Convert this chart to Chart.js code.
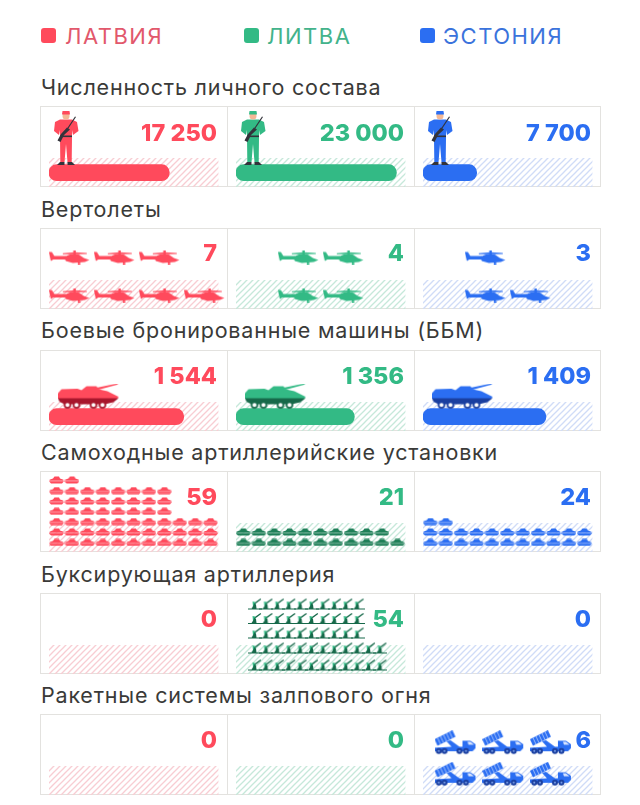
<!DOCTYPE html>
<html lang="ru">
<head>
<meta charset="utf-8">
<title>Вооружение стран Балтии</title>
<script src="https://cdn.jsdelivr.net/npm/chart.js@4"></script>
<style>
  html, body { margin: 0; padding: 0; background: #fff; }
  body { position: relative; width: 640px; height: 805px; overflow: hidden; font-family: Inter, "Noto Sans", sans-serif; }
  .leg-box { position: absolute; top: 28px; width: 15px; height: 15px; border-radius: 3px; }
  .leg-text { position: absolute; top: 22px; font-size: 22px; line-height: 28px; letter-spacing: 1.5px; white-space: nowrap; }
  .title { position: absolute; left: 41px; font-size: 21.5px; line-height: 26px; font-weight: 400; color: #3a3a38; letter-spacing: .8px; white-space: nowrap; }
  .panel { position: absolute; left: 40px; width: 561px; height: 81px; box-sizing: border-box; border: 1px solid #e3e2df; }
  .sep { position: absolute; width: 1px; height: 81px; background: #e3e2df; }
  .cell { position: absolute; width: 187px; height: 81px; }
  .cell canvas { position: absolute; left: 0; top: 0; }
  .num { position: absolute; right: 10px; font-size: 23.5px; line-height: 28px; font-weight: 800; white-space: nowrap; }
</style>
</head>
<body>
<script>
/* DATA */
const countries = ["ЛАТВИЯ", "ЛИТВА", "ЭСТОНИЯ"];
const sectionTitles = [
  "Численность личного состава",
  "Вертолеты",
  "Боевые бронированные машины (ББМ)",
  "Самоходные артиллерийские установки",
  "Буксирующая артиллерия",
  "Ракетные системы залпового огня"
];
const personnel = [17250, 23000, 7700];
const helicopters = [7, 4, 3];
const armoured = [1544, 1356, 1409];
const selfPropelled = [59, 21, 24];
const towed = [0, 54, 0];
const rocket = [0, 0, 6];

// how many icons stand in each row, bottom row first
const helicopterRows = [[4, 3], [2, 2], [2, 1]];
const selfPropelledRows = [[11, 11, 11, 8, 8, 8, 2], [11, 10], [11, 11, 2]];
const towedRows = [[], [12, 12, 10, 10, 10], []];
const rocketRows = [[], [], [3, 3]];

/* COLOURS */
const mainColors = ["#ff4a5c", "#33ba85", "#2b6ef2"];
const legendColors = ["#e2586c", "#43b38b", "#3b73dc"];
const darkColors = ["#a8162c", "#17694a", "#1a3fa0"];
const hatchColors = ["#f8cdd3", "#c6e8da", "#d0dcf7"];
const tankTops = ["#ff4a5c", "#1f7f58", "#2b6ef2"];
const tankSlits = ["#ff8f9b", "#5fa685", "#86abf7"];
const skin = "#f3b896";

/* ICONS */
function makeIcon(w, h, draw) {
  const c = document.createElement("canvas");
  c.width = w;
  c.height = h;
  draw(c.getContext("2d"));
  return c;
}

function poly(ctx, color, pts) {
  ctx.fillStyle = color;
  ctx.beginPath();
  pts.forEach((p, i) => i ? ctx.lineTo(p[0], p[1]) : ctx.moveTo(p[0], p[1]));
  ctx.closePath();
  ctx.fill();
}

function soldierIcon(i) {
  return makeIcon(28, 56, ctx => {
    const m = mainColors[i], d = "#33333b";
    // torso and arms
    poly(ctx, m, [[8, 9.5], [20, 9.5], [25, 12], [26.5, 21], [21, 25], [20, 20], [20, 28], [8, 28], [8, 20], [7, 25], [2, 21], [3, 12]]);
    // legs
    poly(ctx, m, [[8, 28], [20, 28], [19.7, 52], [15.5, 52], [14, 34], [12.5, 52], [8.3, 52]]);
    ctx.fillStyle = skin;
    ctx.beginPath(); ctx.arc(14, 6, 3.5, 0, 7); ctx.fill();
    poly(ctx, m, [[10, 4.5], [10.5, 1], [17.5, 1], [18, 4.5]]);
    ctx.fillStyle = d;
    ctx.fillRect(8, 25.5, 12, 1.6);
    // rifle: thin barrel, heavier stock
    poly(ctx, d, [[23, 6.5], [24, 7], [16, 19], [15, 18.4]]);
    poly(ctx, d, [[15, 17.5], [18, 19.5], [12, 25], [8.5, 32], [5.5, 30.5], [9, 24]]);
    poly(ctx, d, [[8, 52], [12.5, 52], [12.5, 55], [5, 55]]);
    poly(ctx, d, [[15.5, 52], [20, 52], [23, 55], [15.5, 55]]);
  });
}

function helicopterIcon(i) {
  return makeIcon(41, 15, ctx => {
    const m = mainColors[i];
    poly(ctx, m, [[0, 2.5], [3, 2.5], [5.5, 6.5], [17, 6.5], [17, 10], [4.5, 10], [2, 11.5], [1, 7]]);
    poly(ctx, m, [[15, 7.5], [21, 5], [30, 5], [35, 8.5], [40.5, 10.5], [36, 12.5], [24, 13.5], [17, 11.5]]);
    poly(ctx, m, [[14, 3.8], [26, 2.8], [38, 3.6], [38, 4.6], [26, 4.8], [14, 4.8]]);
    ctx.fillStyle = m;
    ctx.fillRect(24.5, 1, 2.5, 5);
    ctx.fillRect(29, 13, 2.5, 1.8);
  });
}

function armouredIcon(i) {
  return makeIcon(62, 26, ctx => {
    const m = mainColors[i], d = darkColors[i];
    poly(ctx, m, [[0, 10], [4, 5.5], [20, 5], [24, 6.5], [29, 2.5], [39, 2.5], [41, 5.5], [50, 7.5], [61, 13], [60, 15], [0, 15]]);
    poly(ctx, m, [[39, 4], [60, -.3], [60.5, .7], [41, 6]]);
    poly(ctx, d, [[.5, 14.5], [61, 14.5], [56, 18.5], [47, 20.5], [7, 20.5], [2, 18]]);
    [10, 19, 36, 45].forEach(x => {
      ctx.beginPath();
      ctx.arc(x, 21.3, 2.9, 0, 7);
      ctx.fillStyle = "#fff";
      ctx.fill();
      ctx.lineWidth = 1.7;
      ctx.strokeStyle = d;
      ctx.stroke();
    });
  });
}

function selfPropelledIcon(i) {
  return makeIcon(15, 8, ctx => {
    const t = tankTops[i];
    poly(ctx, t, [[.5, 3.8], [4, 2.6], [5.5, .4], [10, .4], [11, 2.6], [14.5, 3.8], [14.5, 4.8], [.5, 4.8]]);
    ctx.fillStyle = tankSlits[i];
    ctx.fillRect(1, 4.8, 13, .5);
    poly(ctx, t, [[0, 5.3], [15, 5.3], [13, 7.6], [2, 7.6]]);
  });
}

function towedIcon(i) {
  return makeIcon(14, 13, ctx => {
    const d = darkColors[i];
    poly(ctx, d, [[12.5, 1], [13.2, 2], [7.5, 6.2], [6.5, 5.2]]);
    poly(ctx, mainColors[i], [[4.5, 4], [7, 4.5], [8, 9], [5, 9]]);
    poly(ctx, d, [[6.5, 5.5], [8, 7], [8.5, 11], [3.5, 11], [5.5, 8]]);
    ctx.fillStyle = d;
    ctx.fillRect(0, 11, 14, 1);
  });
}

function rocketIcon(i) {
  return makeIcon(42, 25, ctx => {
    const m = mainColors[i], d = darkColors[i];
    poly(ctx, m, [[0, 9], [18, 0], [21, 6.5], [3, 15.5]]);
    ctx.strokeStyle = "#cfe0ff";
    ctx.lineWidth = .7;
    for (let k = 1; k < 6; k++) {
      const a = k / 6;
      ctx.beginPath();
      ctx.moveTo(18 * a, 9 - 9 * a);
      ctx.lineTo(3 + 18 * a, 15.5 - 9 * a);
      ctx.stroke();
    }
    poly(ctx, m, [[12, 11], [16, 10], [25, 16.5], [28, 16.5], [28, 10.5], [36, 10.5], [41, 14], [41, 18], [38, 21], [0, 21], [0, 17.5], [17, 16.5]]);
    poly(ctx, "#d9e5ff", [[33, 11.5], [36, 11.5], [39.5, 14.5], [34, 14.5]]);
    [4.3, 10, 25, 31.5].forEach(x => {
      ctx.beginPath();
      ctx.arc(x, 20.8, 3, 0, 7);
      ctx.fillStyle = d;
      ctx.fill();
      ctx.beginPath();
      ctx.arc(x, 20.8, 1, 0, 7);
      ctx.fillStyle = "#7fa4ee";
      ctx.fill();
    });
  });
}

/* HATCH TRACK */
function hatchPattern(color) {
  const t = document.createElement("canvas");
  t.width = 6;
  t.height = 6;
  const ctx = t.getContext("2d");
  ctx.strokeStyle = color;
  ctx.lineWidth = 1.3;
  [[-1, 7, 7, -1], [-4, 4, 4, -4], [2, 10, 10, 2]].forEach(s => {
    ctx.beginPath();
    ctx.moveTo(s[0], s[1]);
    ctx.lineTo(s[2], s[3]);
    ctx.stroke();
  });
  return ctx.createPattern(t, "repeat");
}

/* SECTIONS */
const cellW = 187, cellH = 81, padL = 9, padR = 8.5;
const panelTops = [106, 228, 350, 471, 593, 714];
const titleTops = [74, 196, 317, 439, 561, 682];
const numTops = [13, 11, 12, 12, 12, 12];
const trackCenter = 14.3;

const sections = [
  { values: personnel, trackMax: 24300, single: soldierIcon, at: [17, 49] },
  { values: helicopters, rows: helicopterRows, icon: helicopterIcon, x0: [20.3, 62.3, 62.3], dx: 45, ys: [14, 52] },
  { values: armoured, trackMax: 1942, single: armouredIcon, at: [39.5, 34.3] },
  { values: selfPropelled, rows: selfPropelledRows, icon: selfPropelledIcon, x0: [7.5, 7.3, 7.3], dx: 15.4, ys: [9.6, 20, 30.4, 40.7, 51.1, 61.4, 72] },
  { values: towed, rows: towedRows, icon: towedIcon, x0: [19, 19, 19], dx: 11.4, ys: [9, 26, 41, 55.5, 70] },
  { values: rocket, rows: rocketRows, icon: rocketIcon, x0: [32.5, 32.5, 32.5], dx: 47.7, ys: [20.7, 52.3] }
];

function iconPoints(sec, c) {
  const pts = [];
  sec.rows[c].forEach((count, r) => {
    for (let k = 0; k < count; k++) pts.push({ x: sec.x0[c] + k * sec.dx, y: sec.ys[r] });
  });
  return pts;
}

function formatValue(v) {
  return String(v).replace(/\B(?=(\d{3})+$)/g, "\u00a0");
}

function addEl(cls, css, text, parent) {
  const el = document.createElement("div");
  el.className = cls;
  el.style.cssText = css;
  if (text !== undefined) el.textContent = text;
  (parent || document.body).appendChild(el);
  return el;
}

/* LEGEND */
const legendBoxX = [41, 244, 420];
const legendTextX = [65, 267, 443];
countries.forEach((name, c) => {
  addEl("leg-box", `left:${legendBoxX[c]}px;background:${mainColors[c]}`);
  addEl("leg-text", `left:${legendTextX[c]}px;color:${legendColors[c]}`, name);
});

/* CELLS */
function drawCell(cell, sec, c) {
  const datasets = [];
  if (sec.trackMax && sec.values[c] > 0) {
    datasets.push({
      type: "bar",
      data: [{ x: sec.values[c], y: trackCenter }],
      backgroundColor: mainColors[c],
      barThickness: 16,
      borderRadius: 8,
      borderSkipped: false,
      grouped: false,
      order: 1
    });
  }
  datasets.push({
    type: "bar",
    data: [{ x: sec.trackMax || 1, y: trackCenter }],
    backgroundColor: hatchPattern(hatchColors[c]),
    barThickness: 28.6,
    grouped: false,
    order: 2
  });
  const points = sec.single ? [{ x: sec.at[0], y: sec.at[1] }] : iconPoints(sec, c);
  if (points.length) {
    datasets.push({
      type: "scatter",
      xAxisID: "xIcons",
      yAxisID: "y",
      data: points,
      pointStyle: (sec.single || sec.icon)(c),
      pointRadius: 5,
      clip: false,
      order: 0
    });
  }
  const canvas = document.createElement("canvas");
  canvas.width = cellW;
  canvas.height = cellH;
  cell.appendChild(canvas);
  new Chart(canvas.getContext("2d"), {
    type: "bar",
    data: { datasets },
    options: {
      indexAxis: "y",
      responsive: false,
      animation: false,
      events: [],
      layout: { autoPadding: false, padding: { left: padL, right: padR, top: 0, bottom: 0 } },
      plugins: { legend: { display: false }, tooltip: { enabled: false } },
      scales: {
        x: { type: "linear", display: false, min: 0, max: sec.trackMax || 1 },
        xIcons: { type: "linear", axis: "x", display: false, min: 0, max: cellW - padL - padR },
        y: { type: "linear", display: false, min: 0, max: cellH, offset: false }
      }
    }
  });
}

sections.forEach((sec, s) => {
  addEl("title", `top:${titleTops[s]}px`, sectionTitles[s]);
  addEl("panel", `top:${panelTops[s]}px`);
  [1, 2].forEach(k => addEl("sep", `left:${40 + k * cellW}px;top:${panelTops[s]}px`));
  countries.forEach((_, c) => {
    const cell = addEl("cell", `left:${40 + c * cellW}px;top:${panelTops[s]}px`);
    drawCell(cell, sec, c);
    const el = addEl("num", `top:${numTops[s]}px;color:${mainColors[c]}`, formatValue(sec.values[c]), cell);
    el.style.zIndex = 2;
  });
});
</script>
</body>
</html>
